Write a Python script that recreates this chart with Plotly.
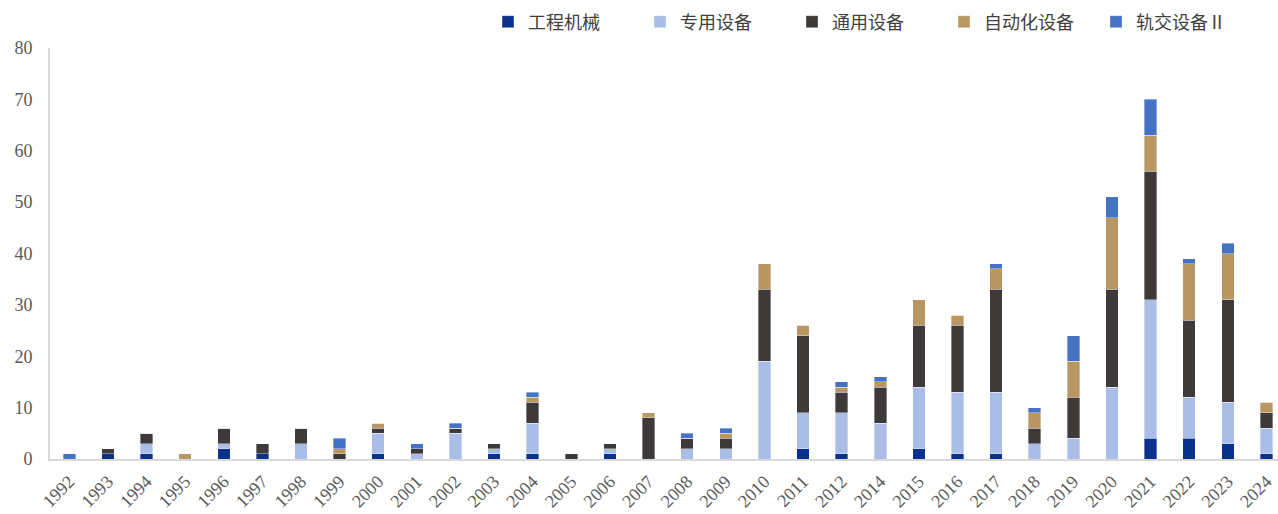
import plotly.graph_objects as go

years = ["1992","1993","1994","1995","1996","1997","1998","1999","2000","2001","2002",
         "2003","2004","2005","2006","2007","2008","2009","2010","2011","2012","2014",
         "2015","2016","2017","2018","2019","2020","2021","2022","2023","2024"]

engineering = [0,1,1,0,2,1,0,0,1,0,0,1,1,0,1,0,0,0,0,2,1,0,2,1,1,0,0,0,4,4,3,1]
special     = [0,0,2,0,1,0,3,0,4,1,5,1,6,0,1,0,2,2,19,7,8,7,12,12,12,3,4,14,27,8,8,5]
general     = [0,1,2,0,3,2,3,1,1,1,1,1,4,1,1,8,2,2,14,15,4,7,12,13,20,3,8,19,25,15,20,3]
automation  = [0,0,0,1,0,0,0,1,1,0,0,0,1,0,0,1,0,1,5,2,1,1,5,2,4,3,7,14,7,11,9,2]
rail        = [1,0,0,0,0,0,0,2,0,1,1,0,1,0,0,0,1,1,0,0,1,1,0,0,1,1,5,4,7,1,2,0]

series = [
    ("工程机械", engineering, "#0b318f"),
    ("专用设备", special, "#a9bde6"),
    ("通用设备", general, "#3d3a39"),
    ("自动化设备", automation, "#b99762"),
    ("轨交设备Ⅱ", rail, "#4472c4"),
]

fig = go.Figure()
for name, vals, color in series:
    fig.add_trace(go.Bar(
        x=years, y=vals, name=name,
        marker=dict(color=color, line=dict(color="rgba(255,255,255,0.6)", width=0.6)),
    ))

font_family = "Liberation Serif, Noto Sans CJK SC, serif"
fig.update_layout(
    barmode="stack",
    bargap=0.676,
    width=1278, height=514,
    margin=dict(l=50, r=0, t=48, b=55, autoexpand=False),
    paper_bgcolor="white", plot_bgcolor="white",
    font=dict(family=font_family, color="#595959", size=17),
    legend=dict(
        orientation="h", xref="container", yref="container",
        x=488/1278, y=1-22/514, xanchor="left", yanchor="middle",
        font=dict(family="Noto Sans CJK SC", size=18, color="#404040"),
        itemwidth=30, entrywidth=107, entrywidthmode="pixels",
        traceorder="normal",
    ),
    showlegend=True,
)
fig.update_xaxes(
    type="category", range=[-0.5, 31.3], automargin=False,
    showline=True, linecolor="#d9d9d9", linewidth=2,
    showgrid=False, ticks="", tickangle=-45,
    ticklabelstandoff=3,
    tickfont=dict(family=font_family, size=18, color="#595959"),
)
fig.update_yaxes(
    range=[0, 80], dtick=10, automargin=False,
    showline=True, linecolor="#d9d9d9", linewidth=2,
    showgrid=False, zeroline=False, ticks="",
    ticklabelstandoff=12,
    tickfont=dict(family=font_family, size=18, color="#595959"),
)

fig.write_html("out.html")
